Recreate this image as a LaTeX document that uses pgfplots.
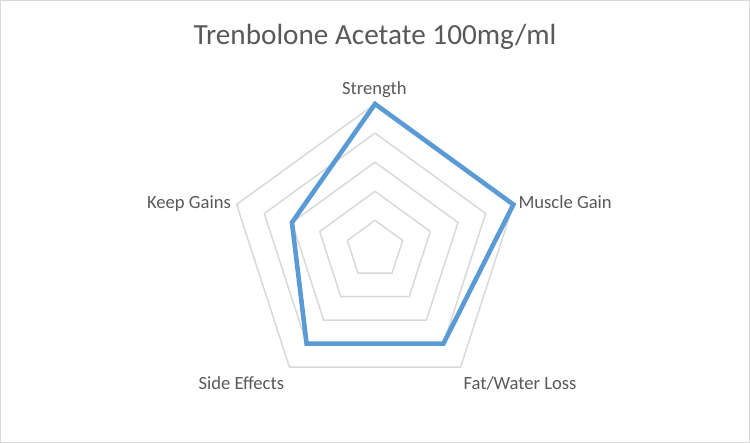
\documentclass[border=0pt]{standalone}
\usepackage{fontspec}
\setmainfont{Carlito}
\usepackage{pgfplots}
\pgfplotsset{compat=1.18}
\usepgfplotslibrary{polar}

\definecolor{ringgrey}{HTML}{D9D9D9}
\definecolor{lineblue}{HTML}{5B9BD5}
\definecolor{txt}{HTML}{595959}

\begin{document}
\begin{tikzpicture}[x=1bp,y=1bp]
  % frame of the whole chart
  \fill[white] (0,0) rectangle (750,443);
  \draw[ringgrey, line width=1bp] (0.5,0.5) rectangle (749.5,442.5);

  \begin{polaraxis}[
      at={(375bp,193.5bp)}, anchor=center,
      scale only axis, width=291bp, height=291bp,
      ymin=0, ymax=5, hide axis, clip=false,
    ]
    % pentagonal rings
    \addplot[ringgrey, line width=1.5bp, no marks] coordinates {(90,1)(18,1)(-54,1)(-126,1)(162,1)(90,1)};
    \addplot[ringgrey, line width=1.5bp, no marks] coordinates {(90,2)(18,2)(-54,2)(-126,2)(162,2)(90,2)};
    \addplot[ringgrey, line width=1.5bp, no marks] coordinates {(90,3)(18,3)(-54,3)(-126,3)(162,3)(90,3)};
    \addplot[ringgrey, line width=1.5bp, no marks] coordinates {(90,4)(18,4)(-54,4)(-126,4)(162,4)(90,4)};
    \addplot[ringgrey, line width=1.5bp, no marks] coordinates {(90,5)(18,5)(-54,5)(-126,5)(162,5)(90,5)};
    % series: Strength, Muscle Gain, Fat/Water Loss, Side Effects, Keep Gains
    \addplot[lineblue, line width=4.6bp, line join=miter, no marks] coordinates {
      (90,5) (18,5) (-54,4) (-126,4) (162,3) (90,5) (18,5)
    };
  \end{polaraxis}

  \node[txt, inner sep=0, anchor=base, font=\fontsize{29.2bp}{34bp}\selectfont] at (375,398.7) {Trenbolone Acetate 100mg/ml};
  \begin{scope}[every node/.style={txt, inner sep=0, font=\fontsize{18.6bp}{22bp}\selectfont}]
    \node[anchor=base] at (374.4,348.7) {Strength};
    \node[anchor=base west] at (518.3,234) {Muscle Gain};
    \node[anchor=base west] at (463.3,53.7) {Fat/Water Loss};
    \node[anchor=base west] at (198.3,53.7) {Side Effects};
    \node[anchor=base east] at (231,234) {Keep Gains};
  \end{scope}
\end{tikzpicture}
\end{document}
